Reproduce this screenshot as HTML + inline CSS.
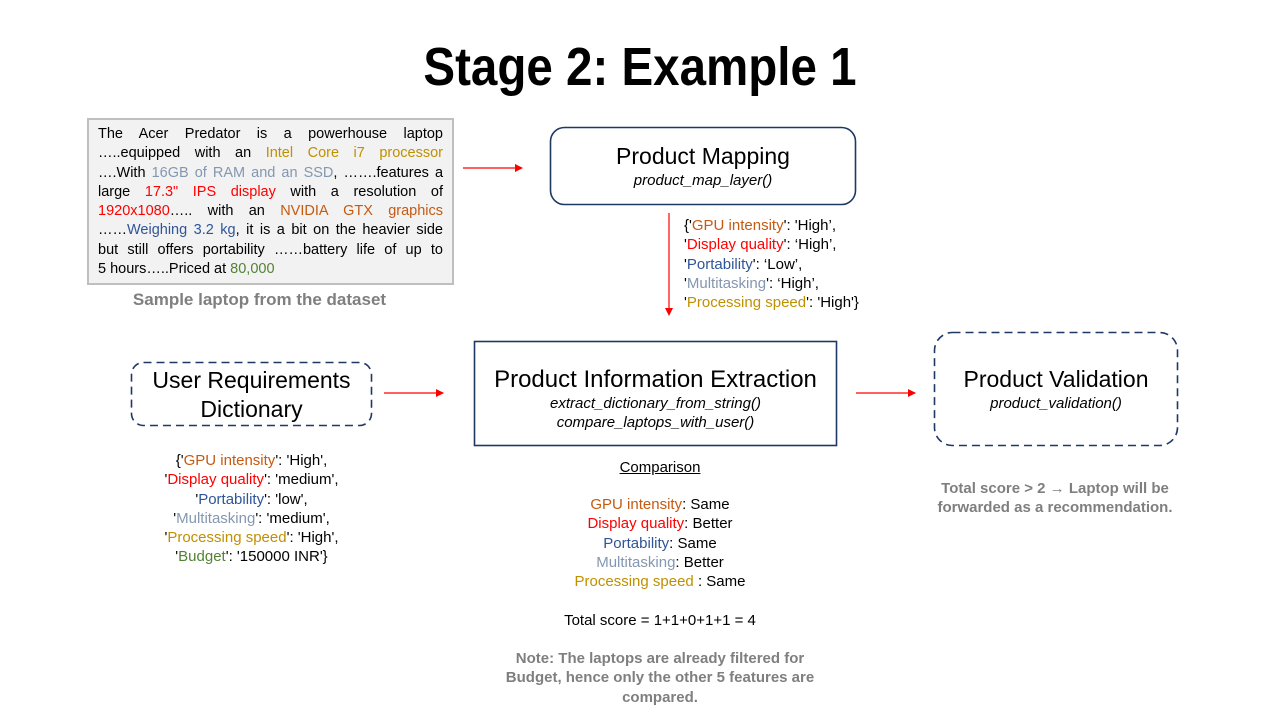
<!DOCTYPE html>
<html><head><meta charset="utf-8"><style>
body{margin:0;width:1280px;height:720px;background:#fff;position:relative;font-family:"Liberation Sans",sans-serif;color:#000;overflow:hidden}
.a{position:absolute}
.o{color:#C55A11}.r{color:#FF0000}.b{color:#2F5597}.g{color:#8497B0}.y{color:#BF9000}.gr{color:#548235}
.c{text-align:center}
.t{font-size:15px;line-height:19.3px}
.j div{text-align:justify;text-align-last:justify;white-space:nowrap}
.j div.l{text-align-last:left}
</style></head><body>
<div class="a c" style="left:0;width:1280px;top:36px;font-size:54px;font-weight:bold;transform:scaleX(0.88);transform-origin:640px 0">Stage 2: Example 1</div>

<div class="a t j" style="left:87px;top:118px;width:345px;height:151px;padding:5px 9px 7px 9px;background:#f2f2f2;border:2px solid #bfbfbf;font-size:14.5px;line-height:19.3px">
<div>The Acer Predator is a powerhouse laptop</div>
<div>…..equipped with an <span class="y">Intel Core i7 processor</span></div>
<div>….With <span class="g">16GB of RAM and an SSD</span>, …….features a</div>
<div>large <span class="r">17.3" IPS display</span> with a resolution of</div>
<div><span class="r">1920x1080</span>….. with an <span class="o">NVIDIA GTX graphics</span></div>
<div>……<span class="b">Weighing 3.2 kg</span>, it is a bit on the heavier side</div>
<div>but still offers portability ……battery life of up to</div>
<div class="l">5 hours…..Priced at <span class="gr">80,000</span></div>
</div>
<div class="a c" style="left:87px;width:345px;top:290px;font-size:17px;color:#7f7f7f;font-weight:bold">Sample laptop from the dataset</div>

<svg class="a" style="left:0;top:0" width="1280" height="720">
<defs><marker id="m" markerWidth="8" markerHeight="8" refX="7" refY="4" orient="auto" markerUnits="userSpaceOnUse"><path d="M0,0L8,4L0,8z" fill="#f00"/></marker></defs>
<g stroke="#f00" stroke-width="1.2" marker-end="url(#m)">
<line x1="463" y1="168" x2="522" y2="168"/>
<line x1="669" y1="213" x2="669" y2="315"/>
<line x1="384" y1="393" x2="443" y2="393"/>
<line x1="856" y1="393" x2="915" y2="393"/>
</g>
<rect x="550.5" y="127.5" width="305" height="77" rx="14" fill="none" stroke="#1F3864" stroke-width="1.6"/>
<rect x="131.5" y="362.5" width="240" height="63" rx="12" fill="none" stroke="#1F3864" stroke-width="1.6" stroke-dasharray="8,5"/>
<rect x="474.5" y="341.5" width="362" height="104" fill="none" stroke="#1F3864" stroke-width="1.6"/>
<rect x="934.5" y="332.5" width="243" height="113" rx="18" fill="none" stroke="#1F3864" stroke-width="1.6" stroke-dasharray="8,5"/>
</svg>

<div class="a c" style="left:550px;width:306px;top:143px;font-size:23px">Product Mapping</div>
<div class="a c" style="left:550px;width:306px;top:172px;font-size:15px;font-style:italic">product_map_layer()</div>

<div class="a t" style="left:684px;top:216px">{'<span class="o">GPU intensity</span>': 'High’,<br>'<span class="r">Display quality</span>': ‘High’,<br>'<span class="b">Portability</span>': ‘Low’,<br>'<span class="g">Multitasking</span>': ‘High’,<br>'<span class="y">Processing speed</span>': 'High'}</div>

<div class="a c" style="left:131px;width:241px;top:366px;font-size:23px;line-height:29px">User Requirements<br>Dictionary</div>
<div class="a c t" style="left:131px;width:241px;top:451px">{'<span class="o">GPU intensity</span>': 'High',<br>'<span class="r">Display quality</span>': 'medium',<br>'<span class="b">Portability</span>': 'low',<br>'<span class="g">Multitasking</span>': 'medium',<br>'<span class="y">Processing speed</span>': 'High',<br>'<span class="gr">Budget</span>': '150000 INR'}</div>

<div class="a c" style="left:474px;width:363px;top:366px;font-size:24px">Product Information Extraction</div>
<div class="a c t" style="left:474px;width:363px;top:394px;font-style:italic">extract_dictionary_from_string()<br>compare_laptops_with_user()</div>

<div class="a c" style="left:934px;width:244px;top:366px;font-size:23px">Product Validation</div>
<div class="a c t" style="left:934px;width:244px;top:394px;font-style:italic">product_validation()</div>
<div class="a c t" style="left:905px;width:300px;top:479px;color:#7f7f7f;font-weight:bold">Total score &gt; 2 → Laptop will be<br>forwarded as a recommendation.</div>

<div class="a c t" style="left:510px;width:300px;top:458px;text-decoration:underline">Comparison</div>
<div class="a c t" style="left:510px;width:300px;top:495px"><span class="o">GPU intensity</span>: Same<br><span class="r">Display quality</span>: Better<br><span class="b">Portability</span>: Same<br><span class="g">Multitasking</span>: Better<br><span class="y">Processing speed</span> : Same</div>
<div class="a c t" style="left:510px;width:300px;top:611px">Total score = 1+1+0+1+1 = 4</div>
<div class="a c t" style="left:490px;width:340px;top:649px;color:#7f7f7f;font-weight:bold">Note: The laptops are already filtered for Budget, hence only the other 5 features are compared.</div>
</body></html>
